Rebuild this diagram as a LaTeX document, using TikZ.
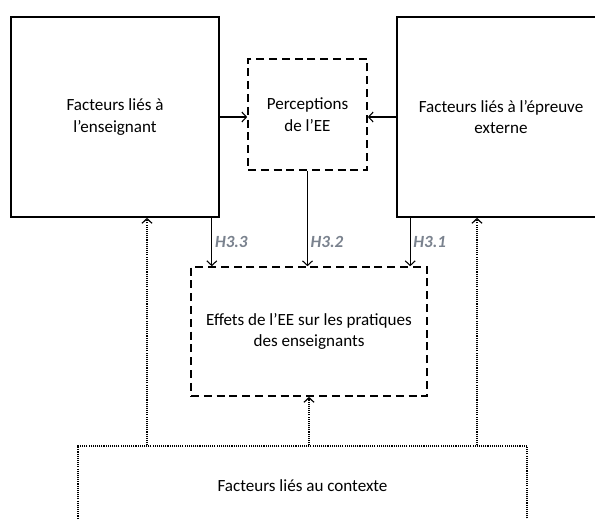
\documentclass[tikz,border=0pt]{standalone}
\usepackage{fontspec}
\setmainfont{Carlito}
\usetikzlibrary{arrows.meta,positioning}
\definecolor{hypgray}{RGB}{122,130,142}

\begin{document}
\begin{tikzpicture}[x=0.75pt,y=-0.75pt,font=\fontsize{12.8}{16.3}\selectfont,
 bigbox/.style={draw,line width=1.2pt,align=center,minimum width=156pt,minimum height=150pt},
 dashbox/.style={draw,line width=1.2pt,dash pattern=on 6pt off 3.6pt,align=center},
 dotbox/.style={draw,line width=1pt,dash pattern=on 0.8pt off 0.8pt,align=center},
 arr/.style={-{Straight Barb[length=3.5pt,width=7.5pt]},line width=0.8pt},
 dotarr/.style={arr,line width=0.9pt,dash pattern=on 0.8pt off 0.8pt},
 hyp/.style={right,inner sep=2pt,text=hypgray,font=\fontsize{12.8}{14}\selectfont\bfseries\itshape}]
\useasboundingbox (0,0) rectangle (595,518);
\node[bigbox](ens) at (115,117){Facteurs liés à\\l’enseignant};
\node[bigbox](ext) at (501,117){Facteurs liés à l’épreuve\\externe};
\node[dashbox,minimum width=89.25pt,minimum height=83.25pt](perc) at (307.5,114.5){Perceptions\\de l’EE};
\node[dashbox,minimum width=177pt,minimum height=96.75pt](eff) at (309,331.5){Effets de l’EE sur les pratiques\\des enseignants};
\node[dotbox,minimum width=336.75pt,minimum height=60pt](ctx) at (302.5,486){Facteurs liés au contexte};
\draw[arr](ens.east)--(ens.east -| perc.west);\draw[arr](ext.west)--(ext.west -| perc.east);
\draw[arr]([xshift=-6pt]ens.south east)--([xshift=-6pt]ens.south east |- eff.north)node[hyp,midway]{H3.3};
\draw[arr](perc.south)--(perc.south |- eff.north)node[hyp,pos=0.75]{H3.2};
\draw[arr]([xshift=10.5pt]ext.south west)--([xshift=10.5pt]ext.south west |- eff.north)node[hyp,midway]{H3.1};
\draw[dotarr]([xshift=24pt]ens.south |- ctx.north)--([xshift=24pt]ens.south);
\draw[dotarr](eff.south |- ctx.north)--(eff.south);
\draw[dotarr]([xshift=-18pt]ext.south |- ctx.north)--([xshift=-18pt]ext.south);
\end{tikzpicture}
\end{document}
